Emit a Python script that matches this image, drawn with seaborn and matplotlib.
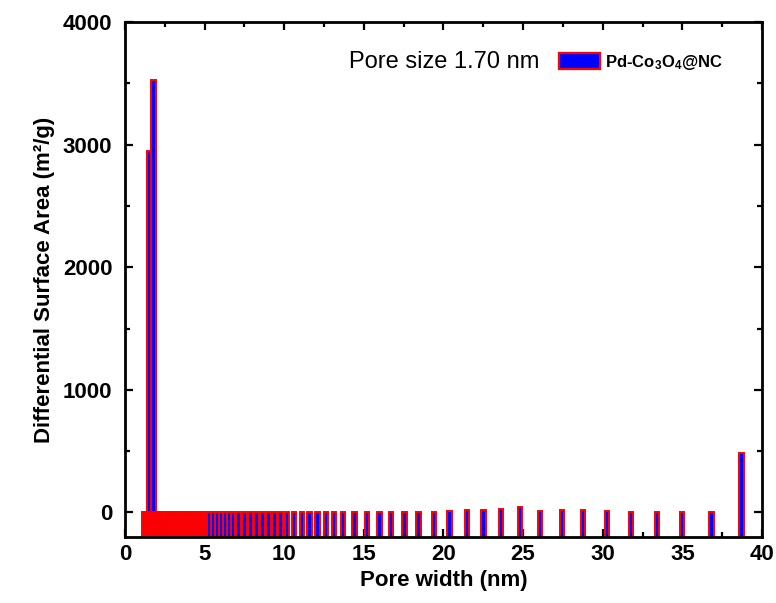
import numpy as np
import pandas as pd
import matplotlib
matplotlib.use('Agg')
import matplotlib.pyplot as plt
from matplotlib.patches import Patch
from matplotlib.ticker import MultipleLocator
import seaborn as sns

# ---------- data ----------
pore_width = [1.18, 1.26, 1.34, 1.42, 1.50, 1.59, 1.68, 1.80, 1.90, 2.00,
              2.10, 2.20, 2.30, 2.40, 2.50, 2.60, 2.70, 2.80, 2.90, 3.00,
              3.10, 3.20, 3.30, 3.40, 3.50, 3.60, 3.70, 3.80, 3.90, 4.00,
              4.10, 4.20, 4.30, 4.40, 4.50, 4.60, 4.70, 4.80, 4.90, 5.00,
              5.10, 5.18,
              5.28, 5.53, 5.78, 6.03, 6.29, 6.54, 6.79, 7.14, 7.50, 7.87,
              8.25, 8.65, 9.02, 9.40, 9.76, 10.18, 10.63, 11.12, 11.59, 12.10,
              12.62, 13.14, 13.68, 14.42, 15.19, 15.97, 16.72, 17.55, 18.43, 19.42,
              20.38, 21.47, 22.51, 23.62, 24.81, 26.07, 27.43, 28.75, 30.25, 31.78,
              33.39, 34.99, 36.84, 38.72]
surface_area = [3, 4, 5, 6, 2950, 5, 4, 3530, 4, 3,
                3, 2, 3, 2, 3, 2, 3, 2, 3, 2,
                3, 2, 3, 2, 3, 2, 3, 2, 3, 2,
                3, 2, 3, 2, 3, 2, 3, 2, 3, 3,
                3, 4,
                5, 5, 6, 5, 6, 5, 6, 6, 6, 6,
                6, 6, 7, 6, 6, 6, 6, 6, 6, 6,
                6, 6, 6, 6, 6, 6, 6, 6, 6, 6,
                8, 22, 22, 25, 42, 12, 16, 16, 12, 6,
                6, 6, 6, 485]

peak_text = 'Pore size 1.70 nm'
series_name = r'Pd-Co$_3$O$_4$@NC'

Y_MIN, Y_MAX = -200, 4000

df = pd.DataFrame({'pore': pore_width, 'area': surface_area})
df['height'] = df['area'] - Y_MIN   # Origin draws the bars from the axis bottom

# ---------- style ----------
sns.set_style('ticks')
plt.rcParams['font.family'] = ['Liberation Sans', 'DejaVu Sans']
plt.rcParams['text.color'] = 'black'
plt.rcParams['axes.labelcolor'] = 'black'
plt.rcParams['xtick.color'] = 'black'
plt.rcParams['ytick.color'] = 'black'
plt.rcParams['mathtext.fontset'] = 'custom'
plt.rcParams['mathtext.rm'] = 'Liberation Sans:bold'
plt.rcParams['mathtext.bf'] = 'Liberation Sans:bold'
plt.rcParams['mathtext.default'] = 'bf'

fig = plt.figure(figsize=(7.76, 6.03), dpi=100)
ax = fig.add_axes([0.161, 0.1095, 0.821, 0.854])

bar_w = 0.28 / np.diff(np.sort(df['pore'].unique())).min()
sns.barplot(data=df, x='pore', y='height', native_scale=True, width=bar_w,
            errorbar=None, facecolor='#0000ff', edgecolor='#ff0000',
            linewidth=1.4, bottom=Y_MIN, ax=ax)

ax.set_xlim(0, 40)
ax.set_ylim(Y_MIN, Y_MAX)
ax.xaxis.set_major_locator(MultipleLocator(5))
ax.xaxis.set_minor_locator(MultipleLocator(2.5))
ax.set_yticks([0, 1000, 2000, 3000, 4000])
ax.yaxis.set_minor_locator(MultipleLocator(500))
ax.tick_params(which='both', direction='in', top=True, right=True, width=1.6)
ax.tick_params(which='major', length=6, labelsize=16)
ax.tick_params(axis='x', which='major', pad=5)
ax.tick_params(axis='y', which='major', pad=9)
ax.tick_params(which='minor', length=3.5)
for lab in ax.get_xticklabels() + ax.get_yticklabels():
    lab.set_fontweight('bold')
for s in ax.spines.values():
    s.set_linewidth(2)
    s.set_color('black')

ax.set_xlabel('Pore width (nm)', fontsize=16, fontweight='bold', labelpad=4)
ax.set_ylabel('Differential Surface Area (m²/g)', fontsize=16,
              fontweight='bold', labelpad=6)

ax.text(0.352, 0.922, peak_text, transform=ax.transAxes, fontsize=17,
        va='center', ha='left')

handle = Patch(facecolor='#0000ff', edgecolor='#ff0000', linewidth=1.6)
leg = ax.legend([handle], [series_name], loc='upper left',
                bbox_to_anchor=(0.681, 0.94), frameon=False, fontsize=12,
                handlelength=2.5, handleheight=1.1, handletextpad=0.3,
                borderpad=0, borderaxespad=0)
for t in leg.get_texts():
    t.set_fontweight('bold')

fig.savefig('out.png', dpi=100)
